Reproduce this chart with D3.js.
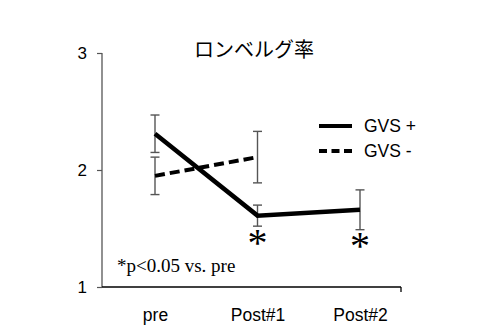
<!DOCTYPE html>
<html><head><meta charset="utf-8">
<script src="https://cdn.jsdelivr.net/npm/d3@7"></script>
<style>body{margin:0;background:#fff}svg{display:block}</style>
</head><body>
<svg id="c" width="496" height="326"></svg>
<script>
const categories = ["pre", "Post#1", "Post#2"];
const gvsPlus = [2.31, 1.61, 1.66];
const gvsPlusErr = [0.16, 0.09, 0.17];
const gvsMinus = [1.95, 2.11];
const gvsMinusErr = [0.16, 0.22];
const yTicks = [1, 2, 3];
const sigCategories = ["Post#1", "Post#2"];
const title = "ロンベルグ率";
const note = "*p<0.05 vs. pre";
const legendLabels = ["GVS +", "GVS -"];

const svg = d3.select("#c");
const x = d3.scalePoint().domain(categories).range([155, 360]);
const y = d3.scaleLinear().domain([1, 3]).range([287, 53]);
const axisLeft = 102, axisRight = 401;
const sans = "'Liberation Sans', Arial, sans-serif";
const serif = "'Liberation Serif', 'Times New Roman', serif";

// Y axis
const ya = svg.append("g").attr("transform", `translate(${axisLeft},0)`)
  .call(d3.axisLeft(y).tickValues(yTicks).tickSize(5).tickPadding(10).tickFormat(d3.format("d")));
ya.select(".domain").remove();
ya.selectAll(".tick line").attr("stroke", "#555").attr("stroke-width", 1.2);
ya.selectAll(".tick text").attr("font-family", sans).attr("font-size", 17).attr("fill", "#000");
svg.append("line").attr("x1", axisLeft).attr("x2", axisLeft).attr("y1", y(3)).attr("y2", y(1))
  .attr("stroke", "#555").attr("stroke-width", 1.3);

// X axis
const xa = svg.append("g").attr("transform", `translate(0,${y(1)})`)
  .call(d3.axisBottom(x).tickSize(0).tickPadding(22));
xa.select(".domain").remove();
xa.selectAll(".tick text").attr("font-family", sans).attr("font-size", 17.5).attr("fill", "#000");
svg.append("line").attr("x1", axisLeft).attr("x2", axisRight).attr("y1", y(1)).attr("y2", y(1))
  .attr("stroke", "#000").attr("stroke-width", 1.3);
svg.append("line").attr("x1", axisRight).attr("x2", axisRight).attr("y1", y(1)).attr("y2", y(1) + 5)
  .attr("stroke", "#000").attr("stroke-width", 1.3);

// Title
svg.append("text").attr("x", 254).attr("y", 57).attr("text-anchor", "middle")
  .attr("font-family", "'Noto Sans CJK JP', sans-serif").attr("font-size", 20).text(title);

// Error bars
function errBars(vals, errs, cats) {
  const g = svg.append("g").attr("stroke", "#555").attr("stroke-width", 1.4).attr("fill", "none");
  vals.forEach((v, i) => {
    const cx = x(cats[i]);
    g.append("line").attr("x1", cx).attr("x2", cx).attr("y1", y(v + errs[i])).attr("y2", y(v - errs[i]));
    [v + errs[i], v - errs[i]].forEach(e => {
      g.append("line").attr("x1", cx - 4.5).attr("x2", cx + 4.5).attr("y1", y(e)).attr("y2", y(e));
    });
  });
}
errBars(gvsPlus, gvsPlusErr, categories);
errBars(gvsMinus, gvsMinusErr, categories.slice(0, 2));

// Lines
const line = d3.line().x(d => x(d.c)).y(d => y(d.v));
svg.append("path").datum(gvsMinus.map((v, i) => ({c: categories[i], v})))
  .attr("d", line).attr("fill", "none").attr("stroke", "#000").attr("stroke-width", 4)
  .attr("stroke-dasharray", "10,5");
svg.append("path").datum(gvsPlus.map((v, i) => ({c: categories[i], v})))
  .attr("d", line).attr("fill", "none").attr("stroke", "#000").attr("stroke-width", 4.5);

// Significance asterisks
sigCategories.forEach((c, i) => {
  svg.append("text").attr("x", x(c)).attr("y", i === 0 ? 256 : 259).attr("text-anchor", "middle")
    .attr("font-family", serif).attr("font-size", 40).text("*");
});

// Note
svg.append("text").attr("x", 117).attr("y", 272).attr("font-family", serif).attr("font-size", 19).text(note);

// Legend
const leg = svg.append("g");
legendLabels.forEach((lab, i) => {
  const ly = 126 + i * 25;
  leg.append("line").attr("x1", 319).attr("x2", 352).attr("y1", ly).attr("y2", ly)
    .attr("stroke", "#000").attr("stroke-width", 4)
    .attr("stroke-dasharray", i === 1 ? "8,4.5" : null);
  leg.append("text").attr("x", 364).attr("y", ly + 6).attr("font-family", sans).attr("font-size", 17.5).text(lab);
});
</script>
</body></html>
